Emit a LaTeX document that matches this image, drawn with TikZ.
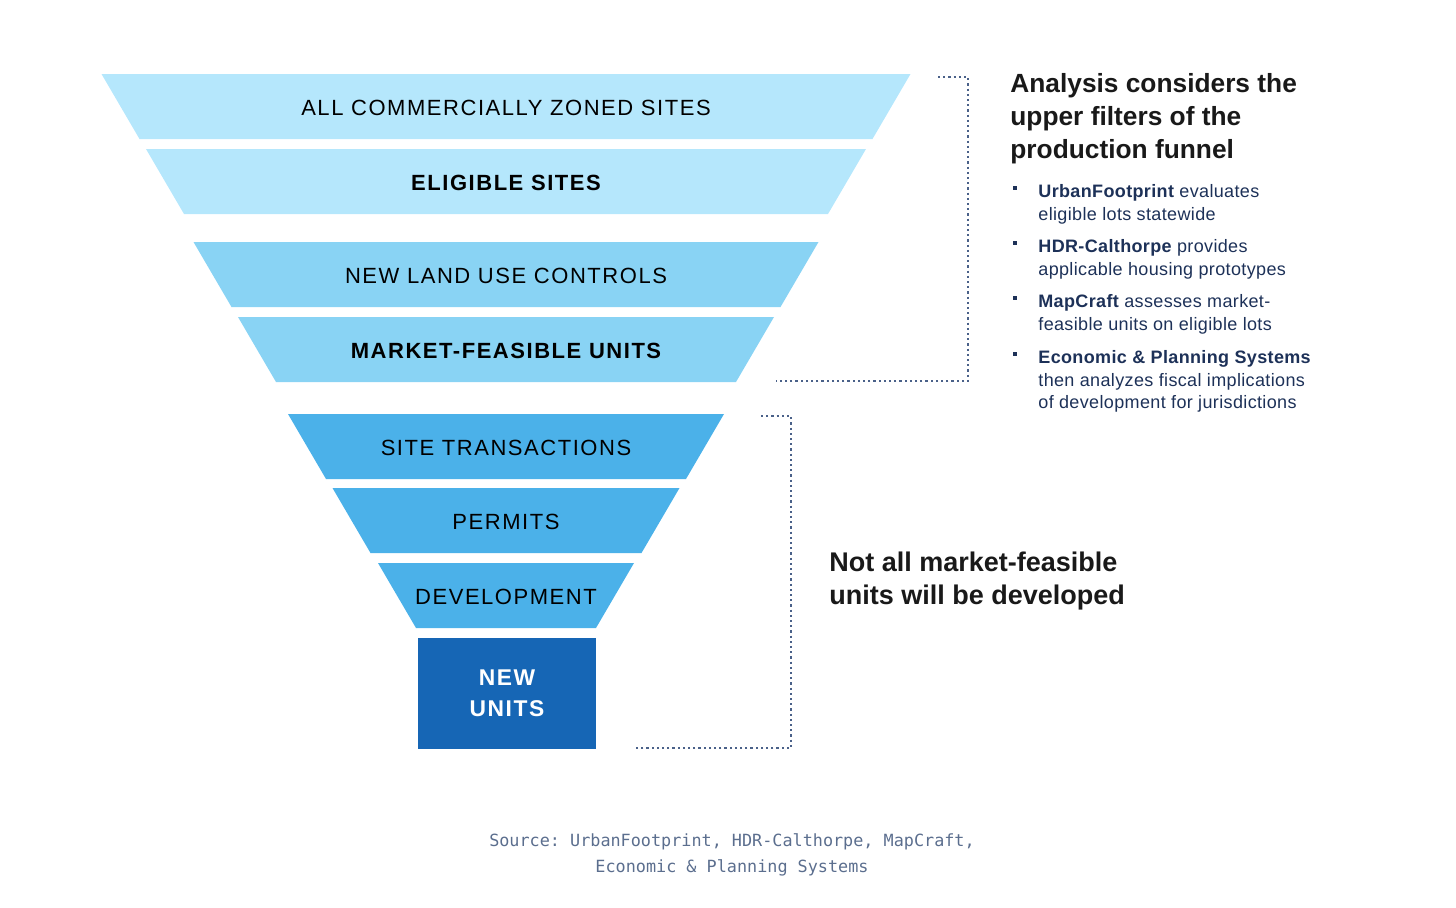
\documentclass[tikz,border=0pt]{standalone}
\usepackage{fontspec}
\setmainfont{Liberation Sans}
\newfontfamily\lblfont[LetterSpace=7]{Liberation Sans}
\newfontfamily\notefont[LetterSpace=2]{Liberation Sans}
\newfontfamily\srcfont{DejaVu Sans Mono}
\frenchspacing
\usepackage{xcolor}
\definecolor{fnlight}{HTML}{B5E7FC}
\definecolor{fnmid}{HTML}{89D3F4}
\definecolor{fndark}{HTML}{4BB1E9}
\definecolor{fnbox}{HTML}{1666B5}
\definecolor{fnnavy}{HTML}{1D3158}
\definecolor{fndots}{HTML}{4A6189}
\definecolor{fnsrc}{HTML}{5B6E8E}
\usepackage{tikz}
\usetikzlibrary{positioning}

\begin{document}
\begin{tikzpicture}[x=0.5pt,y=-0.5pt,
  stage/.style={inner sep=0pt,font=\lblfont\fontsize{11}{12}\selectfont,text=black},
  bracket/.style={draw=fndots,line width=1.1pt,dash pattern=on 1.1pt off 1.5pt},
  note/.style={anchor=north west,align=left,inner sep=0pt,text=fnnavy,
    font=\notefont\fontsize{9}{11.3}\selectfont},
  dot/.style={fill=fnnavy,inner sep=0pt,minimum size=2.2pt},
  claim/.style={anchor=north west,align=left,inner sep=0pt,text=black!90}]
\path[use as bounding box] (0,0) rectangle (1456,907);

% funnel stages: name / centre y / half top width / colour / label
\foreach \nm/\yc/\hw/\col/\txt in {
    all/106.5/404.5/fnlight/{ALL COMMERCIALLY ZONED SITES},
    elig/181.5/360/fnlight/{\bfseries ELIGIBLE SITES},
    land/274.5/312.5/fnmid/{NEW LAND USE CONTROLS},
    mfu/349.5/268/fnmid/{\bfseries MARKET-FEASIBLE UNITS},
    trans/446.5/218/fndark/{SITE TRANSACTIONS},
    perm/520.5/173.5/fndark/{PERMITS},
    dev/595.5/128/fndark/{DEVELOPMENT}} {
  \fill[\col] (506-\hw,\yc-32.5) -- (506+\hw,\yc-32.5)
    -- (506+\hw-38,\yc+32.5) -- (506-\hw+38,\yc+32.5) -- cycle;
  \node[stage] (\nm) at (506,\yc+1) {\txt};
}
\node[fill=fnbox,minimum width=89pt,minimum height=55.5pt,inner sep=0pt,align=center,
  text=white,font=\lblfont\bfseries\fontsize{11.4}{15.3}\selectfont] (units) at (507,693.5) {NEW\\UNITS};

% brackets
\coordinate (uptop) at (938,77);
\coordinate (upbot) at (776,381);
\coordinate (lotop) at (761,416);
\coordinate (lobot) at (634,748);
\draw[bracket] (uptop) -- ++(30,0) |- (upbot);
\draw[bracket] (lotop) -- ++(30,0) |- (lobot);

% right hand text
\node[claim,font=\bfseries\fontsize{13.15}{16.5}\selectfont] (head) at (1010,73)
  {Analysis considers the\\upper filters of the\\production funnel};
\node[note] (n1) at (1038,184) {\bfseries UrbanFootprint\mdseries{} evaluates\\eligible lots statewide};
\node[note] (n2) at (1038,239) {\bfseries HDR-Calthorpe\mdseries{} provides\\applicable housing prototypes};
\node[note] (n3) at (1038,294) {\bfseries MapCraft\mdseries{} assesses market-\\feasible units on eligible lots};
\node[note] (n4) at (1038,350) {\bfseries Economic \& Planning Systems\\\mdseries then analyzes fiscal implications\\of development for jurisdictions};
\node[dot] (d1) at (1015,188) {};
\node[dot] (d2) at (1015,243) {};
\node[dot] (d3) at (1015,298) {};
\node[dot] (d4) at (1015,354) {};

\node[claim,font=\bfseries\fontsize{13.5}{16.5}\selectfont] (notall) at (829,552)
  {Not all market-feasible\\units will be developed};

% source
\node[align=center,text=fnsrc,font=\srcfont\fontsize{8.4}{12.8}\selectfont] (src) at (732,855)
  {Source: UrbanFootprint, HDR-Calthorpe, MapCraft,\\Economic \& Planning Systems};
\end{tikzpicture}
\end{document}
